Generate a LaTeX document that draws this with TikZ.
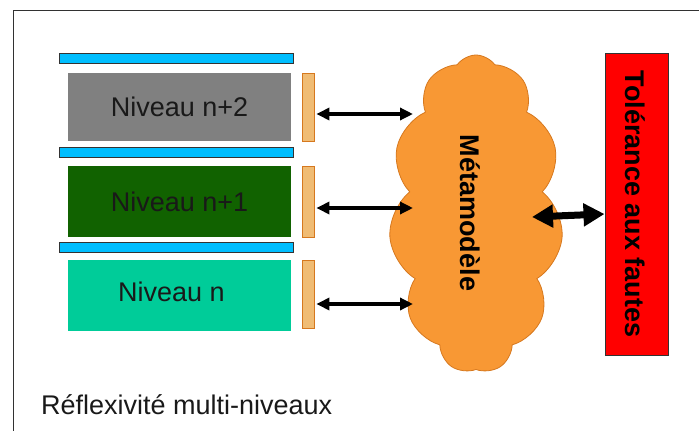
\documentclass[tikz,border=0pt]{standalone}
\usepackage{fontspec}
\setmainfont{Liberation Sans}
\usetikzlibrary{shapes.symbols,arrows.meta}
\definecolor{lvlgrey}{RGB}{128,128,128}
\definecolor{lvlgreen}{RGB}{17,98,0}
\definecolor{lvlteal}{RGB}{0,204,153}
\definecolor{barblue}{RGB}{0,190,255}
\definecolor{tabfill}{RGB}{240,188,116}
\definecolor{tabline}{RGB}{214,120,30}
\definecolor{cloudfill}{RGB}{248,152,52}
\definecolor{cloudline}{RGB}{214,120,30}
\definecolor{framegrey}{RGB}{50,50,50}
\tikzset{
  bigfont/.style={font=\fontsize{27}{32}\selectfont},
  lvlbox/.style={rectangle, inner sep=0pt, minimum width=223pt, bigfont, text=black!90},
  bluebar/.style={rectangle, draw=black!80, line width=0.8pt, fill=barblue, inner sep=0pt, minimum width=234pt, minimum height=10pt},
  tab/.style={rectangle, draw=tabline, line width=0.8pt, fill=tabfill, inner sep=0pt, minimum width=12pt},
  link/.style={line width=4pt, {Triangle[length=13pt,width=12pt]}-{Triangle[length=13pt,width=12pt]}},
  biglink/.style={line width=7pt, {Triangle[length=21pt,width=22pt]}-{Triangle[length=21pt,width=22pt]}},
}
\begin{document}
\begin{tikzpicture}[x=1pt,y=-1pt]
\useasboundingbox (0,0) rectangle (699,431);
\draw[framegrey, line width=1pt] (13,431) -- (13,10) -- (699,10);

% blue bars
\node[bluebar] (bar1) at (176,58) {};
\node[bluebar] (bar2) at (176,152) {};
\node[bluebar] (bar3) at (176,247) {};

% levels
\node[lvlbox, fill=lvlgrey, minimum height=68pt] (n2) at (179.5,107) {Niveau n+2};
\node[lvlbox, fill=lvlgreen, minimum height=71pt] (n1) at (179.5,201.5) {Niveau n+1};
\node[lvlbox, fill=lvlteal, minimum height=71pt] (n0) at (179.5,295.5) {};
\node[bigfont, text=black!90, inner sep=0pt] (t0) at (171.5,292) {Niveau n};

% tabs
\node[tab, minimum height=68pt] (tab2) at (308,107) {};
\node[tab, minimum height=71pt] (tab1) at (308,201.5) {};
\node[tab, minimum height=68pt] (tab0) at (308,294) {};

% cloud
\node[cloud, cloud puffs=11, cloud puff arc=110, cloud ignores aspect, draw=cloudline, line width=0.8pt, fill=cloudfill, minimum width=174pt, minimum height=318pt, inner sep=0pt] (meta) at (476,214) {};
\node[font=\fontsize{27}{32}\selectfont\bfseries, rotate=-90, inner sep=0pt] (metatxt) at (470,213) {Métamodèle};

% fault tolerance
\node[rectangle, draw=black!80, line width=1pt, fill=red, minimum width=63pt, minimum height=302pt, inner sep=0pt] (ft) at (636.5,204) {};
\node[font=\fontsize{27}{32}\selectfont\bfseries, rotate=-90, inner sep=0pt] (fttxt) at (635,204) {Tolérance aux fautes};

% connectors
\coordinate (m2) at (413,114);
\coordinate (m1) at (413,208);
\coordinate (m0) at (413,304);
\coordinate (mr) at (532,217);
\draw[link] (tab2.east |- m2) ++(2,0) -- (m2);
\draw[link] (tab1.east |- m1) ++(2,0) -- (m1);
\draw[link] (tab0.east |- m0) ++(2,0) -- (m0);
\draw[biglink] (mr) -- (ft.west |- 0,214);

% caption
\node[bigfont, text=black!90, anchor=west, inner sep=0pt] (cap) at (41,405) {Réflexivité multi-niveaux};
\end{tikzpicture}
\end{document}
